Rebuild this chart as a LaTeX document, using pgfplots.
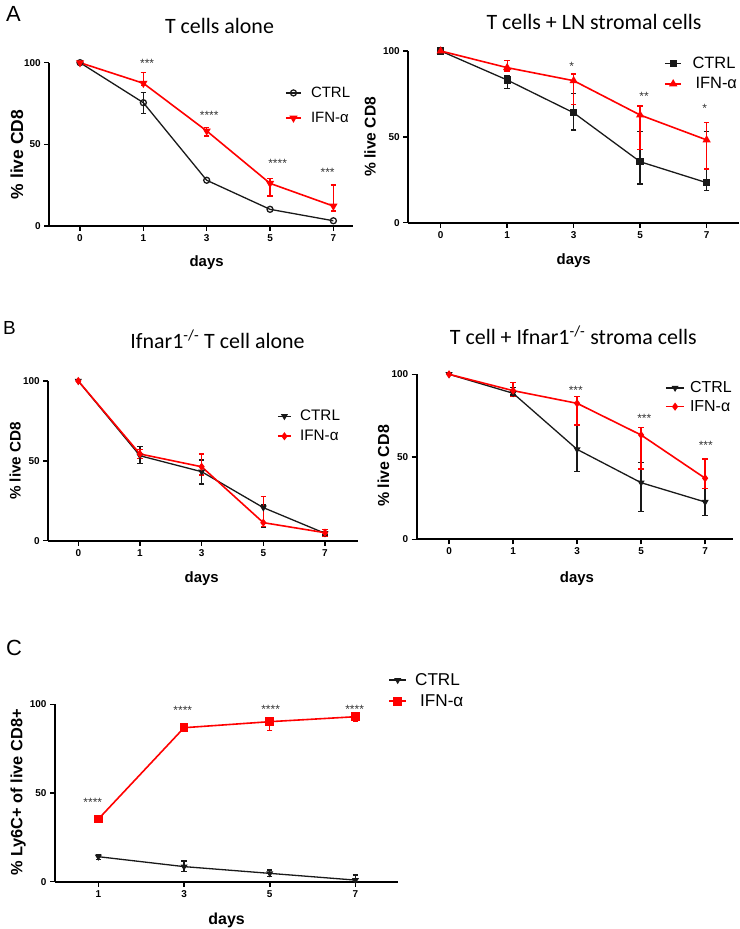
\documentclass[border=0pt]{standalone}
\usepackage{fontspec}
\setmainfont{Liberation Sans}
\newfontfamily\calibri{Carlito}
\usepackage{pgfplots}
\usepackage{pgfplotstable}
\pgfplotsset{compat=1.18}
\definecolor{pr}{RGB}{255,0,0}
\definecolor{pk}{RGB}{25,25,25}

% ---------- Panel A1 ----------
\pgfplotstableread{
x y
0 100
1 75.5
2 28
3 10.2
4 3.2
}\aoneC
\pgfplotstableread{
x y ep em
1 75.5 6.4 6.5
}\aoneCe
\pgfplotstableread{
x y
0 100
1 87.4
2 58.2
3 26.1
4 12.2
}\aoneI
\pgfplotstableread{
x y ep em
1 87.4 6.6 1.5
2 58.2 2.0 3.1
3 26.1 2.9 7.7
4 12.2 12.9 3.0
}\aoneIe
% ---------- Panel A2 ----------
\pgfplotstableread{
x y
0 100
1 83.1
2 64
3 35.5
4 23.3
}\atwoC
\pgfplotstableread{
x y ep em
1 83.1 2.3 4.8
2 64 11.3 10
3 35.5 17.5 13
4 23.3 29.7 4.7
}\atwoCe
\pgfplotstableread{
x y
0 100
1 90.3
2 82.7
3 62.7
4 48.2
}\atwoI
\pgfplotstableread{
x y ep em
1 90.3 4.1 2
2 82.7 3.9 13.7
3 62.7 5.3 20
4 48.2 10.1 16.9
}\atwoIe
% ---------- Panel B1 ----------
\pgfplotstableread{
x y
0 100
1 53.2
2 43.2
3 20.7
4 4.6
}\boneC
\pgfplotstableread{
x y ep em
1 53.2 5.7 4.8
2 43.2 7.3 7.7
3 20.7 1.6 12.6
4 4.6 1 1
}\boneCe
\pgfplotstableread{
x y
0 100
1 54.3
2 46.3
3 11.3
4 5
}\boneI
\pgfplotstableread{
x y ep em
1 54.3 2.9 2.7
2 46.3 8 5.2
3 11.3 16.3 2.5
4 5 2.1 2.5
}\boneIe
% ---------- Panel B2 ----------
\pgfplotstableread{
x y
0 100
1 88.5
2 54.5
3 34.3
4 22.6
}\btwoC
\pgfplotstableread{
x y ep em
1 88.5 3.5 1
2 54.5 14.8 13.5
3 34.3 12.4 17.5
4 22.6 8.3 8.1
}\btwoCe
\pgfplotstableread{
x y
0 100
1 90.1
2 82.4
3 63.2
4 37
}\btwoI
\pgfplotstableread{
x y ep em
1 90.1 5.1 3.6
2 82.4 4.1 13.1
3 63.2 4.5 20.6
4 37 11.7 6.1
}\btwoIe
% ---------- Panel C ----------
\pgfplotstableread{
x y
0 14.1
1 8.5
2 4.7
3 0.9
}\cC
\pgfplotstableread{
x y ep em
0 14.1 1.1 1.5
1 8.5 3.2 2.9
2 4.7 1.9 1.9
3 0.9 2.9 0.9
}\cCe
\pgfplotstableread{
x y
0 35.3
1 86.8
2 90.2
3 93
}\cI
\pgfplotstableread{
x y ep em
0 35.3 1.4 1.8
2 90.2 1.8 5
3 93 1.4 2.4
}\cIe

\tikzset{star/.style={font=\fontsize{12}{12}\selectfont, text=black!80, inner sep=0pt, yshift=-2.7bp}}
\pgfplotsset{
  prism/.style={
    scale only axis, clip=false, anchor=south west,
    axis x line*=bottom, axis y line*=left,
    axis line style={line width=1.8bp, black, -},
    tick align=outside,
    major tick length=5bp,
    tick style={line width=1.5bp, black},
    ymin=0, ymax=100,
    ytick={0,50,100}, yticklabels={0,50,100},
    ticklabel style={font=\bfseries\fontsize{10}{12}\selectfont},
    xtick={0,1,2,3,4}, xticklabels={0,1,3,5,7},
    label style={font=\bfseries\fontsize{15}{18}\selectfont},
    legend cell align=left,
  },
  errb/.style={forget plot, draw=none, mark=none,
    error bars/.cd, y dir=both, y explicit, error mark=-,
    error bar style={draw=#1, line width=1.3bp, solid},
    error mark options={rotate=90, draw=#1, line width=1.3bp, mark size=2.7bp}},
  leg/.style n args={5}{legend style={at={(axis description cs:#1)}, anchor=west, draw=none, fill=none,
      inner sep=0pt, row sep=#3, column sep=#4, font=\fontsize{#2}{#2}\selectfont,
      nodes={inner sep=0pt}},
    legend image code/.code={\draw[mark repeat=2,mark phase=2,##1] plot coordinates {(0bp,0bp) (#5/2,0bp) (#5,0bp)};}},
  ctl/.style={pk, line width=1.3bp},
  ifn/.style={pr, line width=1.6bp},
}

\begin{document}
\begin{tikzpicture}[x=1bp,y=1bp]
\path[use as bounding box] (0,0) rectangle (740,929);

% panel letters and titles
\node[anchor=base west, inner sep=0pt, font=\fontsize{22}{22}\selectfont] at (6,907.3) {A};
\node[anchor=base west, inner sep=0pt, font=\fontsize{19}{19}\selectfont] at (3,594) {B};
\node[anchor=base west, inner sep=0pt, font=\fontsize{22}{22}\selectfont] at (6,273) {C};
\node[anchor=base, inner sep=0pt, font=\calibri\fontsize{22}{22}\selectfont] at (219.5,895) {T cells alone};
\node[anchor=base, inner sep=0pt, font=\calibri\fontsize{22}{22}\selectfont] at (594,899) {T cells + LN stromal cells};
\node[anchor=base, inner sep=0pt, font=\calibri\fontsize{22}{22}\selectfont] at (217.5,580.7) {Ifnar1\textsuperscript{-/-} T cell alone};
\node[anchor=base, inner sep=0pt, font=\calibri\fontsize{22}{22}\selectfont] at (573.3,584.7) {T cell + Ifnar1\textsuperscript{-/-} stroma cells};

% ===== A1 =====
\begin{axis}[prism, at={(49.3bp,703bp)}, width=303.7bp, height=163.3bp,
  xmin=-0.485, xmax=4.31,
  xlabel={days}, xlabel style={at={(axis description cs:0.518,-0.249)}, anchor=base},
  ylabel={\% live CD8}, ylabel style={at={(axis description cs:-0.107,0.438)}, anchor=center, font=\bfseries\fontsize{17.5}{20}\selectfont},
  leg={0.776,0.738}{15}{13.3bp}{9.3bp}{15bp}]
\addplot[errb=pk] table[x=x,y=y,y error plus=ep,y error minus=em]{\aoneCe};
\addplot[errb=pr] table[x=x,y=y,y error plus=ep,y error minus=em]{\aoneIe};
\addplot[ctl, mark=o, mark size=3bp, mark options={solid, line width=1.3bp, fill=white}] table[x=x,y=y]{\aoneC};
\addlegendentry{CTRL}
\addplot[ifn, mark=triangle*, mark size=3.2bp, mark options={solid, rotate=180}] table[x=x,y=y]{\aoneI};
\addlegendentry{IFN-α}
\node[star] at (axis cs:1.06,101) {***};
\node[star] at (axis cs:2.04,69.4) {****};
\node[star] at (axis cs:3.12,39.8) {****};
\node[star] at (axis cs:3.91,34.3) {***};
\end{axis}

% ===== A2 =====
\begin{axis}[prism, at={(408.3bp,706.3bp)}, width=330.7bp, height=171.7bp,
  xmin=-0.487, xmax=4.487,
  xlabel={days}, xlabel style={at={(axis description cs:0.5,-0.246)}, anchor=base},
  ylabel={\% live CD8}, ylabel style={at={(axis description cs:-0.116,0.5)}, anchor=center, font=\bfseries\fontsize{15.6}{18}\selectfont},
  leg={0.773,0.868}{16.5}{7.5bp}{10.3bp}{16.5bp}]
\addplot[errb=pk] table[x=x,y=y,y error plus=ep,y error minus=em]{\atwoCe};
\addplot[errb=pr] table[x=x,y=y,y error plus=ep,y error minus=em]{\atwoIe};
\addplot[ctl, mark=square*, mark size=3bp, mark options={solid}] table[x=x,y=y]{\atwoC};
\addlegendentry{CTRL}
\addplot[ifn, mark=triangle*, mark size=3.2bp, mark options={solid}] table[x=x,y=y]{\atwoI};
\addlegendentry{\hspace{3bp}IFN-α}
\node[star] at (axis cs:1.97,92.8) {*};
\node[star] at (axis cs:3.06,75.4) {**};
\node[star] at (axis cs:3.97,68) {*};
\end{axis}

% ===== B1 =====
\begin{axis}[prism, at={(48.3bp,388.3bp)}, width=310bp, height=159.7bp,
  xmin=-0.486, xmax=4.54,
  xlabel={days}, xlabel style={at={(axis description cs:0.495,-0.259)}, anchor=base},
  ylabel={\% live CD8}, ylabel style={at={(axis description cs:-0.107,0.499)}, anchor=center, font=\bfseries\fontsize{15.3}{18}\selectfont},
  leg={0.737,0.717}{15.3}{8bp}{8.3bp}{13.3bp}]
\addplot[errb=pk] table[x=x,y=y,y error plus=ep,y error minus=em]{\boneCe};
\addplot[errb=pr] table[x=x,y=y,y error plus=ep,y error minus=em]{\boneIe};
\addplot[ctl, mark=triangle*, mark size=2.8bp, mark options={solid, rotate=180}] table[x=x,y=y]{\boneC};
\addlegendentry{CTRL}
\addplot[ifn, mark=diamond*, mark size=2.8bp, mark options={solid}] table[x=x,y=y]{\boneI};
\addlegendentry{IFN-α}
\end{axis}

% ===== B2 =====
\begin{axis}[prism, at={(416.7bp,389.7bp)}, width=316.6bp, height=165bp,
  xmin=-0.505, xmax=4.44,
  xlabel={days}, xlabel style={at={(axis description cs:0.506,-0.259)}, anchor=base},
  ylabel={\% live CD8}, ylabel style={at={(axis description cs:-0.105,0.445)}, anchor=center, font=\bfseries\fontsize{16}{18}\selectfont},
  leg={0.784,0.861}{16}{6.2bp}{5bp}{18.3bp}]
\addplot[errb=pk] table[x=x,y=y,y error plus=ep,y error minus=em]{\btwoCe};
\addplot[errb=pr] table[x=x,y=y,y error plus=ep,y error minus=em]{\btwoIe};
\addplot[ctl, mark=triangle*, mark size=2.8bp, mark options={solid, rotate=180}] table[x=x,y=y]{\btwoC};
\addlegendentry{CTRL}
\addplot[ifn, mark=diamond*, mark size=2.8bp, mark options={solid}] table[x=x,y=y]{\btwoI};
\addlegendentry{IFN-α}
\node[star] at (axis cs:1.98,91.9) {***};
\node[star] at (axis cs:3.05,74.7) {***};
\node[star] at (axis cs:4.01,58.8) {***};
\end{axis}

% ===== C =====
\begin{axis}[prism, at={(55bp,47.3bp)}, width=343.3bp, height=177.4bp,
  xmin=-0.506, xmax=3.5,
  xtick={0,1,2,3}, xticklabels={1,3,5,7},
  xlabel={days}, xlabel style={at={(axis description cs:0.5,-0.244)}, anchor=base, font=\bfseries\fontsize{16}{18}\selectfont},
  ylabel={\% Ly6C+ of live CD8+}, ylabel style={at={(axis description cs:-0.107,0.503)}, anchor=center, font=\bfseries\fontsize{16.4}{18}\selectfont},
  leg={0.971,1.077}{17.2}{7.7bp}{8.3bp}{16.7bp}]
\addplot[errb=pk] table[x=x,y=y,y error plus=ep,y error minus=em]{\cCe};
\addplot[errb=pr] table[x=x,y=y,y error plus=ep,y error minus=em]{\cIe};
\addplot[ctl, mark=triangle*, mark size=2.8bp, mark options={solid, rotate=180}] table[x=x,y=y]{\cC};
\addlegendentry{CTRL}
\addplot[ifn, mark=square*, mark size=3.6bp, mark options={solid}] table[x=x,y=y]{\cI};
\addlegendentry{\hspace{5bp}IFN-α}
\node[star] at (axis cs:-0.065,46.4) {****};
\node[star] at (axis cs:0.985,98.1) {****};
\node[star] at (axis cs:2.01,98.5) {****};
\node[star] at (axis cs:2.99,98.9) {****};
\end{axis}
\end{tikzpicture}
\end{document}
